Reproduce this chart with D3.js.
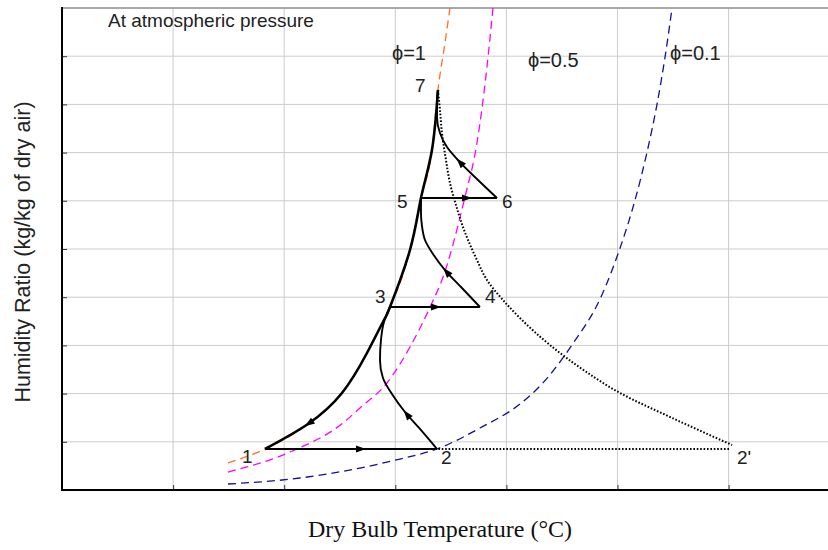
<!DOCTYPE html>
<html>
<head>
<meta charset="utf-8">
<script src="https://cdn.jsdelivr.net/npm/d3@7/dist/d3.min.js"></script>
<style>
  html, body { margin: 0; padding: 0; background: #fff; }
  svg { display: block; }
  text { font-family: "Liberation Sans", Arial, Helvetica, sans-serif; fill: #222; }
</style>
</head>
<body>
<svg id="chart" width="828" height="550"></svg>
<script>
// ---------------- data (grid units: x = dry bulb temperature, y = humidity ratio) ----------------
const xTicks = [1, 2, 3, 4, 5, 6];
const yTicks = [1, 2, 3, 4, 5, 6, 7, 8, 9];

// constant relative humidity curves
const phi100 = [[1.494,0.560],[1.827,0.851],[2.214,1.369],[2.520,2.012],[2.745,2.842],[2.898,3.527],[2.952,3.797],[3.132,4.979],[3.231,6.058],[3.330,7.054],[3.384,8.299],[3.447,9.274],[3.492,10.0]];
const phi050 = [[1.494,0.373],[2.052,0.788],[2.529,1.390],[2.682,1.701],[2.925,2.220],[3.132,2.967],[3.330,3.880],[3.420,4.357],[3.627,6.079],[3.735,7.199],[3.825,8.776],[3.879,10.0]];
const phi010 = [[1.494,0.124],[2.142,0.249],[2.682,0.456],[3.042,0.643],[3.375,0.851],[3.762,1.286],[4.122,1.784],[4.311,2.178],[4.590,3.008],[4.851,4.004],[5.023,5.021],[5.158,6.017],[5.266,7.012],[5.356,8.008],[5.428,8.983],[5.491,10.0]];

// process paths
const sat71  = [[3.384,8.299],[3.330,7.054],[3.231,6.058],[3.132,4.979],[2.952,3.797],[2.898,3.527],[2.745,2.842],[2.520,2.012],[2.214,1.369],[1.827,0.851]];
const proc12 = [[1.827,0.851],[3.375,0.851]];
const proc23 = [[3.375,0.851],[3.222,1.266],[3.087,1.618],[2.970,1.992],[2.889,2.324],[2.862,2.697],[2.871,3.112],[2.898,3.485],[2.952,3.797]];
const proc34 = [[2.952,3.797],[3.762,3.797]];
const proc45 = [[3.762,3.797],[3.600,4.191],[3.447,4.564],[3.339,4.896],[3.267,5.187],[3.240,5.477],[3.231,5.768],[3.231,6.058]];
const proc56 = [[3.231,6.058],[3.915,6.058]];
const proc67 = [[3.915,6.058],[3.735,6.452],[3.564,6.846],[3.465,7.116],[3.402,7.407],[3.375,7.739],[3.375,8.091],[3.384,8.299]];
const dot72p = [[3.384,8.299],[3.402,7.884],[3.420,7.407],[3.456,6.846],[3.492,6.369],[3.546,5.913],[3.609,5.456],[3.735,4.772],[3.825,4.357],[3.969,3.942],[4.122,3.568],[4.392,3.008],[4.707,2.469],[5.023,2.012],[5.473,1.515],[6.031,0.934]];
const dot12p = [[1.827,0.851],[6.004,0.851]];

// arrow tips (position on path, direction follows path)
const arrowTips = [
  {path: "proc12", at: [2.736, 0.851]},
  {path: "proc34", at: [3.411, 3.797]},
  {path: "proc56", at: [3.690, 6.058]},
  {path: "sat71",  at: [2.187, 1.307]},
  {path: "proc23", at: [3.069, 1.639]},
  {path: "proc45", at: [3.429, 4.606]},
  {path: "proc67", at: [3.555, 6.888]}
];

// state point labels (baseline-left, data coords)
const pointLabels = [
  {t: "1",  at: [1.620, 0.560]},
  {t: "2",  at: [3.411, 0.540]},
  {t: "2'", at: [6.076, 0.540]},
  {t: "3",  at: [2.817, 3.880]},
  {t: "4",  at: [3.807, 3.880]},
  {t: "5",  at: [3.015, 5.860]},
  {t: "6",  at: [3.960, 5.860]},
  {t: "7",  at: [3.177, 8.250]}
];
const phiLabels = [
  {t: "ϕ=1",   at: [2.970, 8.930]},
  {t: "ϕ=0.5", at: [4.194, 8.780]},
  {t: "ϕ=0.1", at: [5.473, 8.930]}
];
const noteText = "At atmospheric pressure";
const xTitle = "Dry Bulb Temperature (°C)";
const yTitle = "Humidity Ratio (kg/kg of dry air)";

// ---------------- layout ----------------
const W = 828, H = 550;
const L = 62, T = 8, R = 828, B = 490;
const x = d3.scaleLinear().domain([0, 1]).range([L, L + 111.1]);
const y = d3.scaleLinear().domain([0, 10]).range([B, T]);

const svg = d3.select("#chart");

svg.append("defs").append("clipPath").attr("id", "clip")
  .append("rect").attr("x", L).attr("y", T).attr("width", R - L).attr("height", B - T);

// grid
const grid = svg.append("g");
grid.selectAll("line.vx").data(xTicks).join("line")
  .attr("x1", d => x(d)).attr("x2", d => x(d)).attr("y1", T).attr("y2", B)
  .attr("stroke", "#cccccc").attr("stroke-width", 1);
grid.selectAll("line.hy").data(yTicks).join("line")
  .attr("x1", L).attr("x2", R).attr("y1", d => y(d)).attr("y2", d => y(d))
  .attr("stroke", "#cccccc").attr("stroke-width", 1);
// top frame
svg.append("line").attr("x1", L).attr("x2", R).attr("y1", T).attr("y2", T)
  .attr("stroke", "#a8a8a8").attr("stroke-width", 2);

// axes with inward ticks, no labels
const xAxis = d3.axisBottom(x).tickValues(xTicks).tickSize(-5).tickFormat("");
const yAxis = d3.axisLeft(y).tickValues(yTicks).tickSize(-5).tickFormat("");
const gx = svg.append("g").attr("transform", `translate(0,${B})`).call(xAxis);
gx.select(".domain").remove();
gx.selectAll(".tick line").attr("stroke", "#333");
const gy = svg.append("g").attr("transform", `translate(${L},0)`).call(yAxis);
gy.select(".domain").remove();
gy.selectAll(".tick line").attr("stroke", "#333");
svg.append("line").attr("x1", L).attr("x2", R).attr("y1", B).attr("y2", B)
  .attr("stroke", "#000").attr("stroke-width", 2);
svg.append("line").attr("x1", L).attr("x2", L).attr("y1", T - 1).attr("y2", B + 1)
  .attr("stroke", "#000").attr("stroke-width", 2);

// curve generators
const lineX = d3.line().x(d => x(d[0])).y(d => y(d[1])).curve(d3.curveMonotoneX);
const lineY = d3.line().x(d => x(d[0])).y(d => y(d[1])).curve(d3.curveMonotoneY);
const lineN = d3.line().x(d => x(d[0])).y(d => y(d[1])).curve(d3.curveNatural);
const lineL = d3.line().x(d => x(d[0])).y(d => y(d[1]));
const plot = svg.append("g").attr("clip-path", "url(#clip)");

plot.append("path").attr("d", lineX(phi010)).attr("fill", "none")
  .attr("stroke", "#101090").attr("stroke-width", 1.3).attr("stroke-dasharray", "8,5");
plot.append("path").attr("d", lineX(phi050)).attr("fill", "none")
  .attr("stroke", "#ff00ff").attr("stroke-width", 1.3).attr("stroke-dasharray", "8,5");
plot.append("path").attr("d", lineX(phi100)).attr("fill", "none")
  .attr("stroke", "#ff7020").attr("stroke-width", 1.3).attr("stroke-dasharray", "8,5");

// dotted lines
plot.append("path").attr("d", lineL(dot12p)).attr("fill", "none")
  .attr("stroke", "#000").attr("stroke-width", 2).attr("stroke-dasharray", "1.6,1.8");
plot.append("path").attr("d", lineY(dot72p)).attr("fill", "none")
  .attr("stroke", "#000").attr("stroke-width", 2).attr("stroke-dasharray", "1.6,1.8");

// process solid lines
const procs = {sat71, proc12, proc23, proc34, proc45, proc56, proc67};
const procEls = {};
Object.entries(procs).forEach(([k, pts]) => {
  const gen = k === "sat71" ? lineN : (pts.length > 2 ? lineY : lineL);
  procEls[k] = plot.append("path").attr("d", gen(pts)).attr("fill", "none")
    .attr("stroke", "#000").attr("stroke-width", k === "sat71" ? 2.6 : 1.9)
    .attr("stroke-linejoin", "round");
});

// arrows
arrowTips.forEach(a => {
  const node = procEls[a.path].node();
  const len = node.getTotalLength();
  const tx = x(a.at[0]), ty = y(a.at[1]);
  let best = 0, bestD = Infinity;
  for (let s = 0; s <= len; s += 0.5) {
    const p = node.getPointAtLength(s);
    const d = (p.x - tx) ** 2 + (p.y - ty) ** 2;
    if (d < bestD) { bestD = d; best = s; }
  }
  const tip = node.getPointAtLength(best);
  const back = node.getPointAtLength(Math.max(0, best - 4));
  const ang = Math.atan2(tip.y - back.y, tip.x - back.x) * 180 / Math.PI;
  svg.append("path").attr("d", "M0,0 L-10,-3.6 L-10,3.6 Z")
    .attr("fill", "#000")
    .attr("transform", `translate(${tip.x},${tip.y}) rotate(${ang})`);
});

// labels
svg.selectAll("text.pt").data(pointLabels).join("text")
  .attr("x", d => x(d.at[0])).attr("y", d => y(d.at[1]))
  .attr("font-size", 19).text(d => d.t);
svg.selectAll("text.phi").data(phiLabels).join("text")
  .attr("x", d => x(d.at[0])).attr("y", d => y(d.at[1]))
  .attr("font-size", 20).text(d => d.t);
svg.append("text").attr("x", 108).attr("y", 27).attr("font-size", 19).text(noteText);

// axis titles
svg.append("text").attr("x", 440).attr("y", 537)
  .attr("text-anchor", "middle").attr("font-size", 24)
  .style("font-family", "'Liberation Serif', 'Times New Roman', serif")
  .style("fill", "#111")
  .text(xTitle);
svg.append("text").attr("transform", "translate(30,252) rotate(-90)")
  .attr("text-anchor", "middle").attr("font-size", 21.5)
  .text(yTitle);
</script>
</body>
</html>
